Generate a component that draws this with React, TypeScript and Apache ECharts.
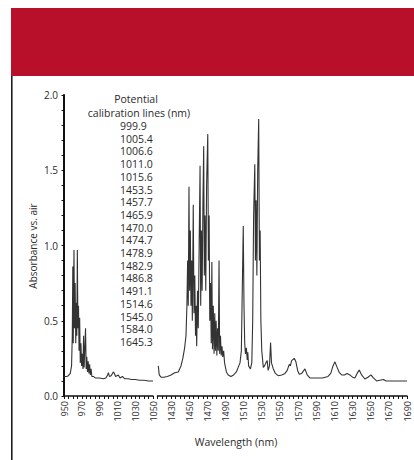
import React, { useEffect, useRef } from "react";
import * as echarts from "echarts";

// ---- data ----
const leftWavelength = [
  950, 953, 955, 957, 958.5, 959.3, 959.9, 960.4, 961.2, 961.8, 962.5, 963.2, 963.9, 964.4, 965, 965.6,
  966.3, 966.9, 967.6, 968.3, 969, 969.8, 970.6, 971.3, 972, 972.6, 973.3, 974.2, 974.9, 975.6, 976.4,
  977.2, 978, 978.8, 979.6, 980.4, 981.3, 983, 985, 987, 990, 994, 997, 999, 999.9, 1001, 1003, 1005.4,
  1006.6, 1008, 1011, 1013, 1015.6, 1018, 1022, 1026, 1030, 1035, 1040, 1045, 1050,
];
const leftAbsorbance = [
  0.13, 0.13, 0.135, 0.15, 0.2, 0.4, 0.86, 0.35, 0.97, 0.45, 0.75, 0.35, 0.62, 0.4, 0.97, 0.45,
  0.6, 0.3, 0.52, 0.22, 0.35, 0.2, 0.28, 0.18, 0.4, 0.19, 0.3, 0.45, 0.18, 0.26, 0.16,
  0.23, 0.15, 0.21, 0.14, 0.18, 0.13, 0.13, 0.12, 0.12, 0.12, 0.115, 0.12, 0.14, 0.155, 0.13, 0.135, 0.16,
  0.15, 0.13, 0.14, 0.12, 0.13, 0.115, 0.115, 0.11, 0.11, 0.105, 0.105, 0.1, 0.1,
];

const rightWavelength = [
  1416, 1417, 1419, 1422, 1426, 1430, 1434, 1438, 1441, 1443, 1445, 1446.5, 1447.5, 1448.3, 1449, 1449.8,
  1450.5, 1451.3, 1452, 1452.8, 1453.5, 1454.5, 1455.3, 1456.2, 1457, 1457.7, 1458.3, 1459.2, 1460, 1461,
  1462, 1462.7, 1463.5, 1464.3, 1465.2, 1466, 1466.7, 1467.5, 1468.3, 1469.2, 1470.5, 1471.2, 1472, 1472.7,
  1473.5, 1474.3, 1475, 1475.7, 1476.6, 1477.4, 1478.2, 1478.9, 1479.7, 1480.5, 1481.3, 1482.1, 1482.9,
  1483.6, 1484.5, 1485.3, 1486.2, 1487, 1488, 1489, 1491, 1493, 1496, 1499, 1502, 1504, 1506, 1507.5,
  1508.5, 1509.6, 1510.4, 1511.2, 1512, 1513, 1514, 1514.6, 1515.5, 1517.5, 1519, 1520, 1521, 1522.3,
  1523, 1523.8, 1524.6, 1525.5, 1526.6, 1527.4, 1528.2, 1529, 1530, 1531.7, 1533, 1534.5, 1536, 1537,
  1538.5, 1539.7, 1540.7, 1542.7, 1545, 1548, 1552, 1555.6, 1558, 1560.3, 1561.5, 1562.9, 1565.8, 1567.5,
  1569.5, 1571.3, 1574, 1577.6, 1580, 1583, 1587, 1592, 1597, 1603, 1606, 1608.5, 1610.6, 1613, 1615.5,
  1618, 1621, 1624, 1627, 1630, 1632.6, 1635, 1637.4, 1640, 1643.6, 1647, 1650.3, 1653, 1656.5, 1660,
  1664, 1667, 1675, 1683, 1690,
];
const rightAbsorbance = [
  0.2, 0.14, 0.125, 0.125, 0.13, 0.14, 0.155, 0.16, 0.2, 0.25, 0.32, 0.4, 0.6, 0.9, 0.6, 1.39,
  0.7, 1.1, 0.6, 0.9, 0.5, 1.27, 0.55, 0.8, 0.4, 0.6, 0.33, 0.7, 0.45, 1.0,
  1.53, 0.6, 1.1, 0.7, 1.3, 1.66, 0.8, 1.2, 0.7, 1.4, 1.74, 0.9, 1.2, 0.5,
  0.75, 0.35, 0.89, 0.31, 0.6, 0.28, 0.55, 0.3, 0.5, 0.27, 0.45, 0.3, 0.9,
  0.28, 0.4, 0.27, 0.33, 0.26, 0.3, 0.22, 0.16, 0.14, 0.13, 0.14, 0.16, 0.19, 0.22, 0.3,
  0.7, 1.13, 0.6, 0.35, 0.28, 0.32, 0.24, 0.29, 0.2, 0.18, 0.22, 0.5, 1.2, 1.54,
  0.9, 1.3, 0.8, 1.5, 1.84, 0.9, 1.1, 0.5, 0.3, 0.19, 0.2, 0.22, 0.235, 0.17,
  0.2, 0.355, 0.22, 0.18, 0.15, 0.135, 0.14, 0.15, 0.17, 0.21, 0.2, 0.235, 0.25, 0.23,
  0.17, 0.145, 0.15, 0.18, 0.14, 0.12, 0.12, 0.12, 0.12, 0.13, 0.15, 0.2, 0.227, 0.19, 0.155,
  0.14, 0.14, 0.15, 0.14, 0.125, 0.12, 0.15, 0.172, 0.14, 0.113, 0.125, 0.14, 0.12, 0.1, 0.105,
  0.11, 0.1, 0.1, 0.1, 0.1,
];

const leftTickLabels = [950, 970, 990, 1010, 1030, 1050];
const rightTickLabels = [1430, 1450, 1470, 1490, 1510, 1530, 1550, 1570, 1590, 1610, 1630, 1650, 1670, 1690];
const yTickLabels = [0, 0.5, 1, 1.5, 2];

const calibrationLines = [
  "999.9", "1005.4", "1006.6", "1011.0", "1015.6", "1453.5", "1457.7", "1465.9", "1470.0",
  "1474.7", "1478.9", "1482.9", "1486.8", "1491.1", "1514.6", "1545.0", "1584.0", "1645.3",
];

const FONT = "'Open Sans', 'Noto Sans', sans-serif";
const TEXT = "#2b2b2b";

export default function App() {
  const ref = useRef<HTMLDivElement>(null);

  useEffect(() => {
    if (!ref.current) return;
    const chart = echarts.init(ref.current, null, { renderer: "svg" });

    const xAxisCommon = {
      type: "value" as const,
      interval: 5,
      axisLine: { show: true, onZero: false, lineStyle: { color: "#111", width: 1.5 } },
      axisTick: { show: true, inside: false, length: 3, lineStyle: { color: "#111", width: 1 } },
      splitLine: { show: false },
      axisLabel: {
        rotate: 90,
        margin: 5,
        fontSize: 9,
        color: TEXT,
        fontFamily: FONT,
        showMinLabel: true,
        showMaxLabel: true,
        formatter: (v: number) => String(Math.round(v)),
      },
    };

    const yAxisCommon = {
      type: "value" as const,
      min: 0,
      max: 2,
      interval: 0.1,
      splitLine: { show: false },
    };

    const option: any = {
      animation: false,
      backgroundColor: "#ffffff",
      grid: [
        { left: 64, top: 95, width: 89, height: 301, containLabel: false },
        { left: 157.4, top: 95, width: 249.6, height: 301, containLabel: false },
      ],
      xAxis: [
        {
          ...xAxisCommon,
          gridIndex: 0,
          min: 950,
          max: 1050,
          axisLabel: { ...xAxisCommon.axisLabel, customValues: leftTickLabels },
        },
        {
          ...xAxisCommon,
          gridIndex: 1,
          min: 1415,
          max: 1690,
          axisLabel: { ...xAxisCommon.axisLabel, customValues: rightTickLabels },
        },
      ],
      yAxis: [
        {
          ...yAxisCommon,
          gridIndex: 0,
          axisLine: { show: true, lineStyle: { color: "#111", width: 2 } },
          axisTick: { show: true, inside: false, length: 2.5, lineStyle: { color: "#111", width: 1 } },
          axisLabel: {
            customValues: yTickLabels,
            formatter: (v: number) => v.toFixed(1),
            fontSize: 10,
            margin: 6,
            color: TEXT,
            fontFamily: FONT,
          },
        },
        { ...yAxisCommon, gridIndex: 1, show: false },
      ],
      series: [
        {
          type: "line",
          xAxisIndex: 0,
          yAxisIndex: 0,
          showSymbol: false,
          symbol: "none",
          lineStyle: { color: "#333", width: 1.1 },
          data: leftWavelength.map((w, i) => [w, leftAbsorbance[i]]),
        },
        {
          type: "line",
          xAxisIndex: 1,
          yAxisIndex: 1,
          showSymbol: false,
          symbol: "none",
          lineStyle: { color: "#333", width: 1.1 },
          data: rightWavelength.map((w, i) => [w, rightAbsorbance[i]]),
        },
      ],
      graphic: [
        { type: "rect", shape: { x: 11, y: 8, width: 403, height: 68 }, style: { fill: "#b8102a" } },
        { type: "line", shape: { x1: 11.8, y1: 76, x2: 11.8, y2: 460 }, style: { stroke: "#111", lineWidth: 1.5 } },
        {
          type: "text",
          x: 136,
          y: 99,
          style: { text: "Potential", fontSize: 10.5, fontFamily: FONT, fill: TEXT, align: "center", verticalAlign: "middle" },
        },
        {
          type: "text",
          x: 139,
          y: 112.5,
          style: { text: "calibration lines (nm)", fontSize: 10.5, fontFamily: FONT, fill: TEXT, align: "center", verticalAlign: "middle" },
        },
        ...calibrationLines.map((t, i) => ({
          type: "text",
          x: 120,
          y: 126 + i * 12.7,
          style: { text: t, fontSize: 10.5, fontFamily: FONT, fill: TEXT, align: "left", verticalAlign: "middle" },
        })),
        {
          type: "text",
          x: 33,
          y: 246,
          rotation: Math.PI / 2,
          style: { text: "Absorbance vs. air", fontSize: 10, fontFamily: FONT, fill: TEXT, align: "center", verticalAlign: "middle" },
        },
        {
          type: "text",
          x: 236,
          y: 442,
          style: { text: "Wavelength (nm)", fontSize: 10.5, fontFamily: FONT, fill: TEXT, align: "center", verticalAlign: "middle" },
        },
      ],
    };

    chart.setOption(option);
    return () => chart.dispose();
  }, []);

  return (
    <div
      ref={ref}
      style={{ position: "fixed", left: 0, top: 0, width: 414, height: 460, background: "#fff" }}
    />
  );
}
